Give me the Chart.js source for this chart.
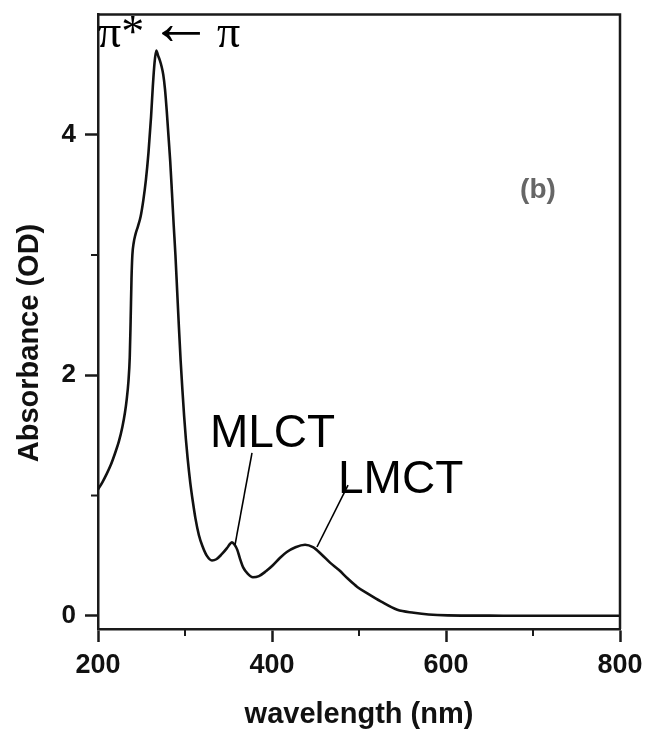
<!DOCTYPE html>
<html>
<head>
<meta charset="utf-8">
<script src="https://cdn.jsdelivr.net/npm/chart.js@4"></script>
<style>
  html, body { margin: 0; padding: 0; background: #ffffff; }
  #wrap { width: 648px; height: 733px; }
</style>
</head>
<body>
<div id="wrap"><canvas id="c" width="648" height="733"></canvas></div>
<script>
// ---- data ----
const wavelengths = [200, 205, 210, 215, 220, 224, 228, 231, 233, 235, 236.5, 237.5, 238.5, 239.5, 241, 243, 246, 249, 252, 255, 258, 261, 263, 265, 267, 269, 271, 273, 275, 277, 279, 281, 283, 285, 287, 289, 291, 293, 295, 297, 299, 301, 303, 306, 309, 312, 316, 320, 325, 331, 336, 342, 348, 352, 354, 357, 360, 363, 367, 372, 378, 385, 393, 401, 409, 417, 427, 438, 447, 457, 467, 477, 487, 498, 511, 525, 544, 563, 580, 602, 650, 700, 750, 800];
const absorbance  = [1.05, 1.11, 1.18, 1.26, 1.36, 1.45, 1.57, 1.69, 1.80, 1.95, 2.15, 2.45, 2.80, 3.00, 3.10, 3.17, 3.24, 3.32, 3.45, 3.62, 3.85, 4.15, 4.40, 4.60, 4.70, 4.66, 4.62, 4.57, 4.50, 4.38, 4.20, 3.99, 3.78, 3.52, 3.25, 3.00, 2.70, 2.40, 2.12, 1.88, 1.66, 1.47, 1.31, 1.11, 0.95, 0.81, 0.67, 0.58, 0.50, 0.46, 0.47, 0.51, 0.56, 0.60, 0.61, 0.59, 0.55, 0.48, 0.40, 0.35, 0.32, 0.33, 0.37, 0.42, 0.48, 0.53, 0.57, 0.59, 0.57, 0.51, 0.44, 0.38, 0.31, 0.24, 0.18, 0.12, 0.05, 0.025, 0.01, 0.003, 0.001, 0, 0, 0];

const xTickValues = [200, 300, 400, 500, 600, 700, 800];
const xTickLabels = [200, 400, 600, 800];
const yTickValues = [0, 1, 2, 3, 4];
const yTickLabels = [0, 2, 4];

const xTitle = 'wavelength (nm)';
const yTitle = 'Absorbance (OD)';
const bandLabels = ['MLCT', 'LMCT'];
const transitionParts = ['π*', '\u2190', 'π'];
const panelLabel = '(b)';

// ---- chart ----
const AX = '#1a1a1a';
const points = wavelengths.map((w, i) => ({ x: w, y: absorbance[i] }));

const deco = {
  id: 'deco',
  afterDraw(chart) {
    const { ctx, chartArea: a, scales: { x, y } } = chart;
    ctx.save();
    ctx.strokeStyle = AX;
    ctx.lineCap = 'butt';
    // top and right frame
    ctx.lineWidth = 2.5;
    ctx.beginPath();
    ctx.moveTo(a.left - 1, a.top);
    ctx.lineTo(a.right, a.top);
    ctx.lineTo(a.right, a.bottom);
    ctx.stroke();
    // minor ticks
    ctx.lineWidth = 2;
    xTickValues.filter(v => !xTickLabels.includes(v)).forEach(v => {
      const px = x.getPixelForValue(v);
      ctx.beginPath(); ctx.moveTo(px, a.bottom); ctx.lineTo(px, a.bottom + 7); ctx.stroke();
    });
    yTickValues.filter(v => !yTickLabels.includes(v)).forEach(v => {
      const py = y.getPixelForValue(v);
      ctx.beginPath(); ctx.moveTo(a.left, py); ctx.lineTo(a.left - 7, py); ctx.stroke();
    });

    // leader lines
    ctx.lineWidth = 1.6;
    ctx.strokeStyle = '#000';
    const seg = (x1, y1, x2, y2) => {
      ctx.beginPath();
      ctx.moveTo(x.getPixelForValue(x1), y.getPixelForValue(y1));
      ctx.lineTo(x.getPixelForValue(x2), y.getPixelForValue(y2));
      ctx.stroke();
    };
    seg(377.0, 1.354, 357.5, 0.589);
    seg(487.4, 1.087, 451.7, 0.572);

    // annotation texts
    ctx.fillStyle = '#000';
    ctx.textBaseline = 'alphabetic';
    ctx.textAlign = 'left';
    ctx.font = '46px "Liberation Sans", Arial, sans-serif';
    ctx.fillText(bandLabels[0], x.getPixelForValue(328.7), y.getPixelForValue(1.403));
    ctx.fillText(bandLabels[1], x.getPixelForValue(475.9), y.getPixelForValue(1.021));

    // transition label: pi*  <-  pi
    const bx = x.getPixelForValue(200), by = y.getPixelForValue(4.73);
    ctx.font = '46px "Liberation Serif", "Times New Roman", serif';
    ctx.fillText(transitionParts[0], bx, by);
    ctx.font = '64px "Liberation Serif", "Times New Roman", serif';
    ctx.fillText(transitionParts[1], bx + 51, by - 3);
    ctx.font = '46px "Liberation Serif", "Times New Roman", serif';
    ctx.fillText(transitionParts[2], bx + 119, by);

    ctx.fillStyle = '#666';
    ctx.textAlign = 'center';
    ctx.textBaseline = 'middle';
    ctx.font = 'bold 28px "Liberation Sans", Arial, sans-serif';
    ctx.fillText(panelLabel, x.getPixelForValue(705.7), y.getPixelForValue(3.54));

    // axis titles
    ctx.fillStyle = '#111';
    ctx.font = 'bold 29px "Liberation Sans", Arial, sans-serif';
    ctx.textAlign = 'center';
    ctx.textBaseline = 'alphabetic';
    ctx.fillText(xTitle, (a.left + a.right) / 2, 723);
    ctx.save();
    ctx.translate(30, 343);
    ctx.rotate(-Math.PI / 2);
    ctx.textBaseline = 'middle';
    ctx.fillText(yTitle, 0, 0);
    ctx.restore();

    ctx.restore();
  }
};

new Chart(document.getElementById('c'), {
  type: 'line',
  data: {
    datasets: [{
      data: points,
      borderColor: '#111',
      borderWidth: 2.6,
      pointRadius: 0,
      fill: false,
      cubicInterpolationMode: 'monotone'
    }]
  },
  options: {
    responsive: false,
    animation: false,
    devicePixelRatio: 1,
    layout: { padding: { left: 0, right: 28, top: 14.5, bottom: 0 } },
    plugins: { legend: { display: false }, tooltip: { enabled: false }, title: { display: false } },
    scales: {
      x: {
        type: 'linear',
        min: 200, max: 800,
        afterBuildTicks: s => { s.ticks = xTickValues.map(v => ({ value: v })); },
        afterFit: s => { s.height = 104; s.paddingLeft = 0; s.paddingRight = 0; },
        ticks: {
          autoSkip: false, maxRotation: 0, padding: 7, color: '#111',
          font: { family: '"Liberation Sans", Arial, sans-serif', size: 27, weight: 'bold' },
          callback: v => xTickLabels.includes(v) ? String(v) : ''
        },
        grid: {
          drawOnChartArea: false, drawTicks: true, tickLength: 13, tickWidth: 2.5,
          tickColor: c => (c.tick && xTickLabels.includes(c.tick.value)) ? AX : 'rgba(0,0,0,0)'
        },
        border: { display: true, color: AX, width: 2.5 }
      },
      y: {
        type: 'linear',
        min: -0.11, max: 5.0,
        afterBuildTicks: s => { s.ticks = yTickValues.map(v => ({ value: v })); },
        afterFit: s => { s.width = 98; s.paddingTop = 0; s.paddingBottom = 0; },
        ticks: {
          autoSkip: false, padding: 9, color: '#111',
          font: { family: '"Liberation Sans", Arial, sans-serif', size: 26, weight: 'bold' },
          callback: v => yTickLabels.includes(v) ? String(v) : ''
        },
        grid: {
          drawOnChartArea: false, drawTicks: true, tickLength: 13, tickWidth: 2.5,
          tickColor: c => (c.tick && yTickLabels.includes(c.tick.value)) ? AX : 'rgba(0,0,0,0)'
        },
        border: { display: true, color: AX, width: 2.5 }
      }
    }
  },
  plugins: [deco]
});
</script>
</body>
</html>
